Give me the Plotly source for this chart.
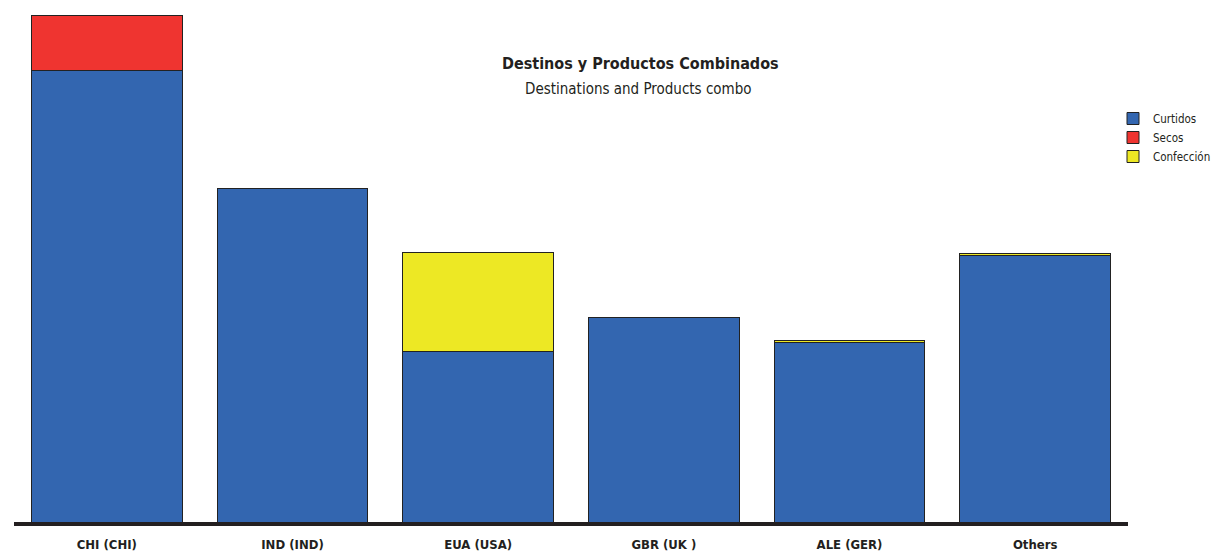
import plotly.graph_objects as go

categories = ["CHI (CHI)", "IND (IND)", "EUA (USA)", "GBR (UK )", "ALE (GER)", "Others"]
curtidos = [452, 334, 171, 205, 180, 267]
secos = [55, 0, 0, 0, 0, 0]
confeccion = [0, 0, 99, 0, 2, 2]

series = [
    ("Curtidos", curtidos, "#3366B0"),
    ("Secos", secos, "#EF3430"),
    ("Confección", confeccion, "#EDE824"),
]

font_family = "DejaVu Sans Condensed, Liberation Sans Narrow, sans-serif"

W, H = 1212, 544  # page has an 8px body margin
L, R, T, B = 6, 92, 2, 30
PW, PH = W - L - R, H - T - B

fig = go.Figure()
for name, vals, color in series:
    fig.add_trace(go.Bar(
        x=categories, y=vals, name=name,
        marker=dict(color=color, line=dict(color="#222222", width=1)),
    ))

fig.update_layout(
    barmode="stack",
    bargap=0.19,
    width=W, height=H,
    margin=dict(l=L, r=R, t=T, b=B, autoexpand=False),
    paper_bgcolor="white", plot_bgcolor="white",
    font=dict(family=font_family, color="#231F20"),
    xaxis=dict(showline=True, linecolor="#231F20", linewidth=4, ticks="", automargin=False,
               ticklabelstandoff=7,
               tickfont=dict(size=13, family=font_family, color="#231F20", weight="bold"),
               showgrid=False),
    yaxis=dict(range=[0, 512], visible=False, showgrid=False, automargin=False),
    legend=dict(xref="container", yref="container", x=1105 / W, y=1 - 96 / H,
                xanchor="left", yanchor="top",
                font=dict(size=11.5, family=font_family), tracegroupgap=0,
                traceorder="normal", bgcolor="rgba(0,0,0,0)"),
)
fig.add_annotation(text="<b>Destinos y Productos Combinados</b>", xref="paper", yref="paper",
                   x=(632 - L) / PW, y=(PH + T - 55) / PH, xanchor="center", yanchor="middle",
                   showarrow=False, font=dict(size=16, family=font_family, color="#231F20"))
fig.add_annotation(text="Destinations and Products combo", xref="paper", yref="paper",
                   x=(630 - L) / PW, y=(PH + T - 81) / PH, xanchor="center", yanchor="middle",
                   showarrow=False, font=dict(size=15, family=font_family, color="#231F20"))

fig.write_html("out.html")
